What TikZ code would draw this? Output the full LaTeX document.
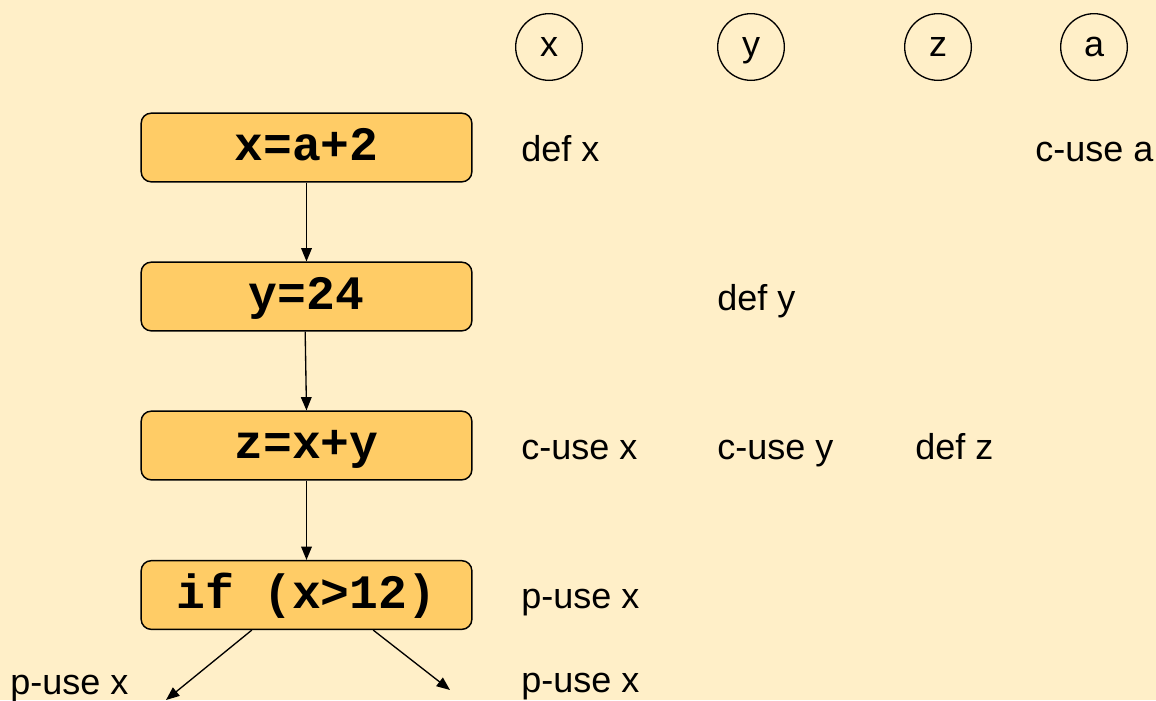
\documentclass[tikz,border=0pt]{standalone}
\usepackage{fontspec}
\setmainfont{Liberation Sans}
\newfontfamily\codefont{Liberation Mono}
\usetikzlibrary{arrows.meta}
\definecolor{bg}{RGB}{255,239,200}
\definecolor{boxfill}{RGB}{255,204,102}
\begin{document}
\begin{tikzpicture}[x=0.75pt,y=-0.75pt,
  stmt/.style={draw=black, line width=1.1pt, fill=boxfill, rounded corners=7.5pt,
    minimum width=248pt, minimum height=51.5pt, inner sep=0pt,
    text height=24pt, text depth=4pt,
    font=\codefont\bfseries\fontsize{36}{40}\selectfont},
  lbl/.style={anchor=base west, inner sep=0pt, font=\fontsize{27}{30}\selectfont},
  var/.style={draw=black, line width=1pt, circle, minimum size=50pt, inner sep=0pt,
    text height=14pt, text depth=0pt, font=\fontsize{27}{30}\selectfont},
  flow/.style={draw=black, line width=1pt, -{Triangle[length=10pt,width=8pt]}}]
\useasboundingbox[fill=bg] (0,0) rectangle (1156,700);
% variable circles
\node[var] (vx) at (549,47) {x};
\node[var] (vy) at (751,47) {y};
\node[var] (vz) at (938,47) {z};
\node[var] (va) at (1094,47) {a};
% statements
\node[stmt] (s1) at (306.5,147.5) {x=a+2};
\node[stmt] (s2) at (306.5,296.5) {y=24};
\node[stmt] (s3) at (306.5,445.5) {z=x+y};
\node[stmt] (s4) at (306.5,595) {if (x>12)};
% labels
\node[lbl] (l1) at (521,161) {def x};
\node[lbl] (l2) at (1035,161) {c-use a};
\node[lbl] (l3) at (717,310) {def y};
\node[lbl] (l4) at (521,459) {c-use x};
\node[lbl] (l5) at (717,459) {c-use y};
\node[lbl] (l6) at (915,459) {def z};
\node[lbl] (l7) at (521,608) {p-use x};
\node[lbl] (l8) at (10,694) {p-use x};
\node[lbl] (l9) at (521,692) {p-use x};
% connectors
\draw[flow] (s1.south) -- (s2.north);
\draw[flow] ([xshift=-1pt]s2.south) -- (s3.north);
\draw[flow] (s3.south) -- (s4.north);
\coordinate (e1) at (166,700);
\coordinate (e2) at (450,690);
\draw[flow] ([xshift=-41pt]s4.south) -- (e1);
\draw[flow] ([xshift=50pt]s4.south) -- (e2);
\end{tikzpicture}
\end{document}
